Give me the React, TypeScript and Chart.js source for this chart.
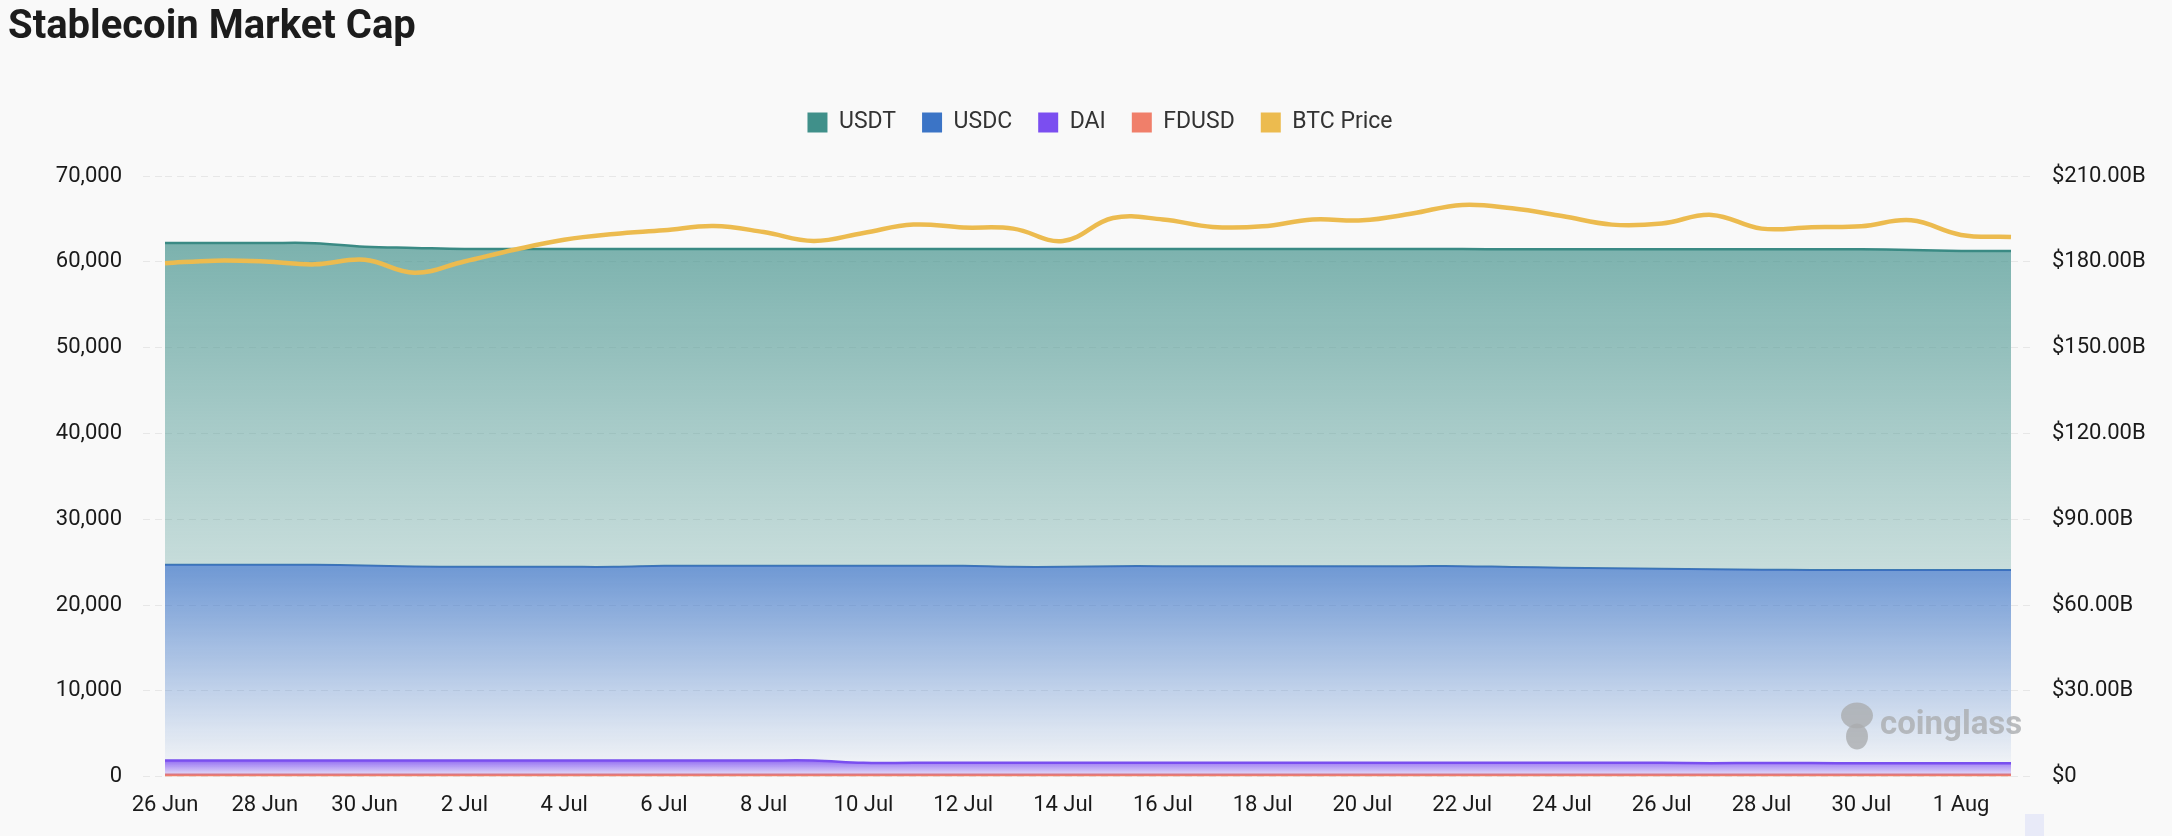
import { useEffect, useRef } from "react";
import { Chart, registerables } from "chart.js";

Chart.register(...registerables);

const dates = [
  "26 Jun", "27 Jun", "28 Jun", "29 Jun", "30 Jun",
  "1 Jul", "2 Jul", "3 Jul", "4 Jul", "5 Jul", "6 Jul", "7 Jul", "8 Jul", "9 Jul", "10 Jul",
  "11 Jul", "12 Jul", "13 Jul", "14 Jul", "15 Jul", "16 Jul", "17 Jul", "18 Jul", "19 Jul", "20 Jul",
  "21 Jul", "22 Jul", "23 Jul", "24 Jul", "25 Jul", "26 Jul", "27 Jul", "28 Jul", "29 Jul", "30 Jul",
  "31 Jul", "1 Aug", "2 Aug",
];

const usdt = [
  62180, 62180, 62180, 62170, 61750, 61620, 61500, 61490, 61490, 61490,
  61490, 61490, 61490, 61490, 61490, 61490, 61490, 61490, 61490, 61490,
  61490, 61480, 61480, 61480, 61480, 61480, 61480, 61470, 61470, 61470,
  61470, 61470, 61460, 61460, 61450, 61380, 61270, 61250,
];

const usdc = [
  24690, 24690, 24690, 24690, 24600, 24500, 24450, 24450, 24450, 24450,
  24570, 24570, 24570, 24570, 24570, 24570, 24570, 24450, 24450, 24530,
  24530, 24530, 24530, 24530, 24530, 24530, 24530, 24430, 24350, 24280,
  24220, 24170, 24120, 24080, 24070, 24070, 24070, 24070,
];

const dai = [
  1870, 1870, 1870, 1870, 1870, 1870, 1870, 1870, 1870, 1870,
  1870, 1870, 1870, 1870, 1600, 1600, 1600, 1600, 1600, 1600,
  1600, 1600, 1600, 1600, 1600, 1600, 1600, 1600, 1600, 1600,
  1600, 1560, 1590, 1580, 1550, 1550, 1550, 1550,
];

const fdusd = [
  180, 180, 180, 180, 180, 180, 180, 180, 180, 180,
  180, 180, 180, 180, 180, 180, 180, 180, 180, 180,
  180, 180, 180, 180, 180, 180, 180, 180, 180, 180,
  180, 180, 180, 180, 180, 180, 180, 180,
];

// BTC price on the right axis, in "B"
const btcPrice = [
  179.5, 180.4, 180.1, 179.1, 180.7, 176.2, 180.1, 184.2, 187.7, 189.7,
  191.0, 192.5, 190.4, 187.3, 190.1, 193.0, 192.0, 191.6, 187.3, 195.3,
  194.8, 192.2, 192.4, 194.8, 194.5, 196.9, 199.9, 198.7, 196.0, 193.0,
  193.4, 196.4, 191.6, 192.1, 192.4, 194.5, 189.4, 188.7,
];

const seriesNames = ["USDT", "USDC", "DAI", "FDUSD", "BTC Price"];
const legendColors = ["#40908a", "#3b74c6", "#7b4ef0", "#f07f6a", "#ecbb4f"];

const FONT = "Roboto, 'Noto Sans', sans-serif";

function bandFill(rgb: string, values: number[], a0: number, a1: number) {
  return (ctx: any) => {
    const chart = ctx.chart;
    const y = chart.scales && chart.scales.y;
    if (!chart.chartArea || !y) return `rgba(${rgb},${a0})`;
    const top = y.getPixelForValue(Math.max(...values));
    const bottom = y.getPixelForValue(0);
    const g = chart.ctx.createLinearGradient(0, top, 0, bottom);
    g.addColorStop(0, `rgba(${rgb},${a0})`);
    g.addColorStop(1, `rgba(${rgb},${a1})`);
    return g;
  };
}

// extra room under the legend, and nudge it right like the original
const legendTweak = {
  id: "legendTweak",
  beforeInit(chart: any) {
    const legend = chart.legend;
    if (!legend) return;
    const fit = legend.fit;
    legend.fit = function () {
      fit.call(this);
      this.height += 32;
    };
  },
  afterLayout(chart: any) {
    if (chart.legend) chart.legend.left += 40;
  },
};

const watermark = {
  id: "watermark",
  afterDatasetsDraw(chart: any) {
    const { ctx, chartArea } = chart;
    const cx = chartArea.right - 154;
    const cy = chartArea.bottom - 51;
    ctx.save();
    ctx.fillStyle = "rgba(170,172,175,0.8)";
    ctx.beginPath();
    ctx.ellipse(cx, cy - 10, 16, 13, 0, 0, Math.PI * 2);
    ctx.fill();
    ctx.beginPath();
    ctx.ellipse(cx, cy + 11, 11, 13, 0, 0, Math.PI * 2);
    ctx.fill();
    ctx.font = `bold 33px ${FONT}`;
    ctx.textBaseline = "middle";
    ctx.fillText("coinglass", chartArea.right - 131, cy);
    ctx.restore();
  },
};

export default function App() {
  const ref = useRef<HTMLCanvasElement>(null);
  const chartRef = useRef<Chart | null>(null);

  useEffect(() => {
    document.body.style.margin = "0";
    document.body.style.background = "#f9f9f9";
    if (!ref.current) return;
    if (chartRef.current) chartRef.current.destroy();

    const gridColor = "rgba(0,0,0,0.07)";
    const tickFont = { family: FONT, size: 22 };

    chartRef.current = new Chart(ref.current, {
      type: "line",
      data: {
        labels: dates,
        datasets: [
          {
            label: seriesNames[0],
            data: usdt,
            borderColor: "#3a8a84",
            borderWidth: 2.5,
            backgroundColor: bandFill("64,144,138", usdt, 0.68, 0),
            fill: "+1",
            yAxisID: "y",
          },
          {
            label: seriesNames[1],
            data: usdc,
            borderColor: "#3b6fc0",
            borderWidth: 2,
            backgroundColor: bandFill("59,116,198", usdc, 0.73, 0),
            fill: "+1",
            yAxisID: "y",
          },
          {
            label: seriesNames[2],
            data: dai,
            borderColor: "#7b4ef0",
            borderWidth: 2.5,
            backgroundColor: bandFill("123,78,240", dai, 0.8, 0.08),
            fill: "+1",
            yAxisID: "y",
          },
          {
            label: seriesNames[3],
            data: fdusd,
            borderColor: "#f07f6a",
            borderWidth: 3,
            backgroundColor: "#f07f6a",
            fill: false,
            yAxisID: "y",
          },
          {
            label: seriesNames[4],
            data: btcPrice,
            borderColor: "#ecbb4f",
            borderWidth: 4.5,
            backgroundColor: "#ecbb4f",
            fill: false,
            yAxisID: "y1",
            order: -1,
          },
        ],
      },
      options: {
        responsive: true,
        maintainAspectRatio: false,
        animation: false,
        layout: { padding: { top: 4, left: 8, right: 20, bottom: 1 } },
        elements: {
          point: { radius: 0, hoverRadius: 0 },
          line: { tension: 0.4 },
        },
        plugins: {
          title: {
            display: true,
            text: "Stablecoin Market Cap",
            align: "start",
            color: "#1c1c1c",
            font: { family: FONT, size: 40, weight: "bold" },
            padding: { top: 0, bottom: 33 },
          },
          legend: {
            display: true,
            labels: {
              boxWidth: 20,
              boxHeight: 20,
              padding: 26,
              color: "#333",
              font: { family: FONT, size: 23 },
              sort: (a: any, b: any) => a.datasetIndex - b.datasetIndex,
              generateLabels: (chart: any) =>
                Chart.defaults.plugins.legend.labels
                  .generateLabels(chart)
                  .map((item: any) => ({
                    ...item,
                    fillStyle: legendColors[item.datasetIndex],
                    strokeStyle: legendColors[item.datasetIndex],
                    lineWidth: 0,
                  })),
            },
          },
          tooltip: { enabled: false },
        },
        scales: {
          x: {
            grid: { display: false, drawTicks: false },
            border: { display: false },
            ticks: {
              autoSkip: false,
              maxRotation: 0,
              padding: 16,
              color: "#1a1a1a",
              font: tickFont,
              callback: (_v: any, i: number) => (i % 2 === 0 ? dates[i] : null),
            },
          },
          y: {
            position: "left",
            min: 0,
            max: 70000,
            afterFit: (scale: any) => {
              scale.width = 157;
            },
            grid: {
              color: gridColor,
              tickColor: gridColor,
              tickLength: 22,
              tickBorderDash: [7, 5],
            },
            border: { display: false, dash: [7, 5] },
            ticks: {
              stepSize: 10000,
              padding: 21,
              color: "#1a1a1a",
              font: tickFont,
              callback: (v: any) => Number(v).toLocaleString("en-US"),
            },
          },
          y1: {
            position: "right",
            min: 0,
            max: 210,
            afterFit: (scale: any) => {
              scale.width = 141;
            },
            grid: {
              drawOnChartArea: false,
              color: gridColor,
              tickColor: gridColor,
              tickLength: 22,
              tickBorderDash: [7, 5],
            },
            border: { display: false, dash: [7, 5] },
            ticks: {
              stepSize: 30,
              padding: 19,
              color: "#1a1a1a",
              font: tickFont,
              callback: (v: any) => (Number(v) === 0 ? "$0" : "$" + Number(v).toFixed(2) + "B"),
            },
          },
        },
      },
      plugins: [legendTweak, watermark],
    } as any);

    return () => chartRef.current?.destroy();
  }, []);

  return (
    <div style={{ position: "relative", width: 2172, height: 836, background: "#f9f9f9" }}>
      <canvas ref={ref} role="img" aria-label="Stablecoin market cap chart">
        Stablecoin market cap with BTC price
      </canvas>
      <div
        style={{
          position: "absolute",
          left: 2025,
          top: 814,
          width: 19,
          height: 22,
          background: "#e8eaf8",
        }}
      />
    </div>
  );
}
